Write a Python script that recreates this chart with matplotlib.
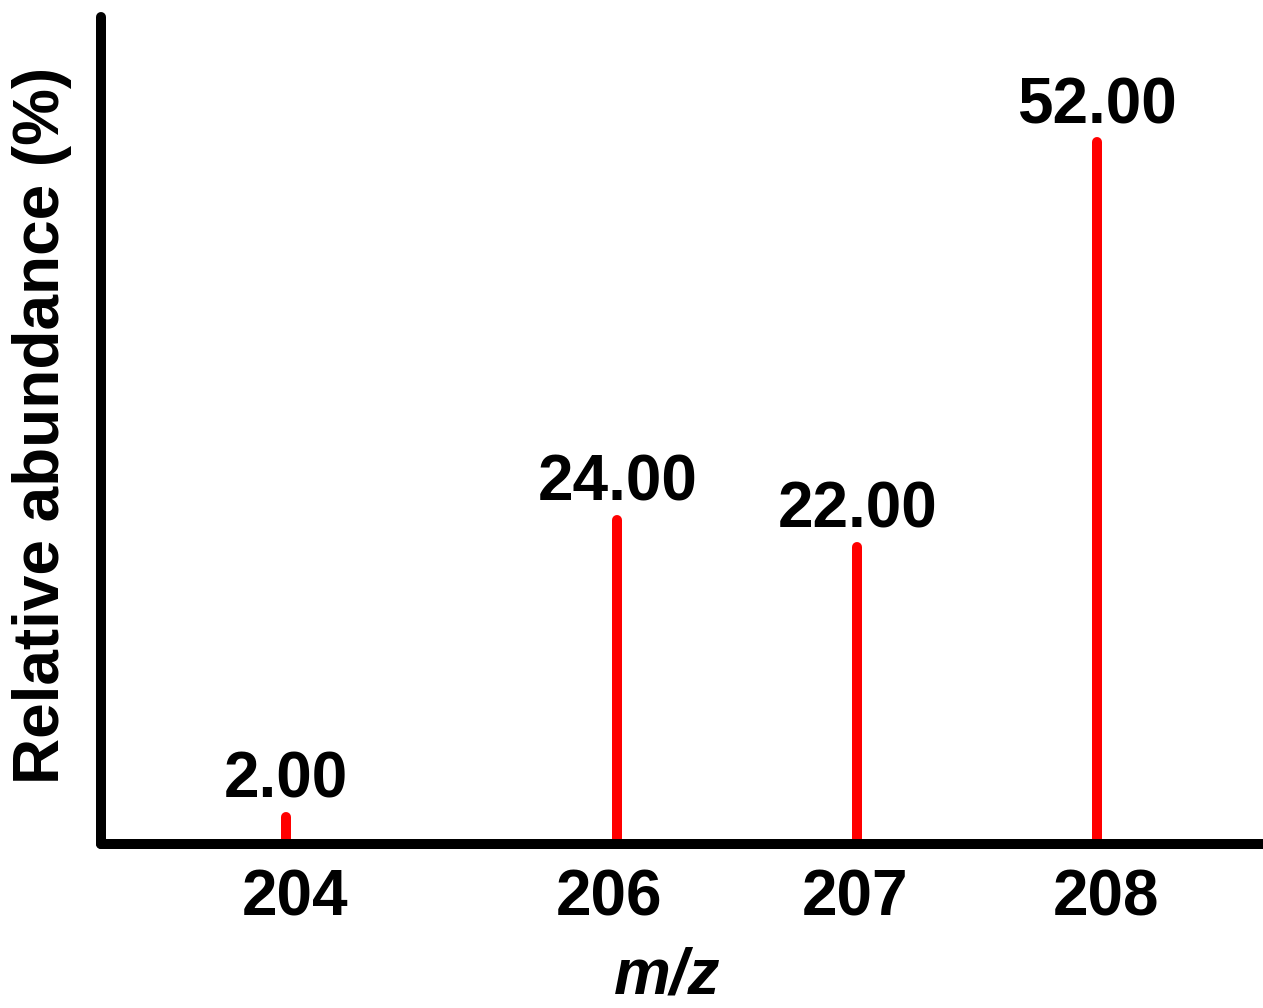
import numpy as np
import matplotlib
matplotlib.use("Agg")
import matplotlib.pyplot as plt
import matplotlib.transforms as mtransforms

# Lead isotope abundances
mz = [204, 206, 207, 208]
abundance = [2.00, 24.00, 22.00, 52.00]
tick_labels = ["204", "206", "207", "208"]

FONT = "Liberation Sans"
plt.rcParams["font.family"] = [FONT, "DejaVu Sans"]

# m/z 205 is absent, so the 204-206 interval is drawn compressed
GAP_END = 206.0
GAP_FACTOR = 0.69


def forward(x):
    x = np.asarray(x, dtype=float)
    return np.where(x >= GAP_END, x, GAP_END - (GAP_END - x) * GAP_FACTOR)


def inverse(y):
    y = np.asarray(y, dtype=float)
    return np.where(y >= GAP_END, y, GAP_END - (GAP_END - y) / GAP_FACTOR)


fig = plt.figure(figsize=(12.63, 10.08), dpi=100)
ax = fig.add_axes([0.0796, 0.1627, 0.9204, 0.8204])
ax.set_xscale("function", functions=(forward, inverse))
ax.set_xlim(202.88, 208.69)
ax.set_ylim(0, 61.3)

lc = ax.vlines(mz, 0, abundance, colors="#ff0000", linewidth=7.2, zorder=2)
lc.set_capstyle("round")

for x, v in zip(mz, abundance):
    ax.annotate(f"{v:.2f}", (x, v), xytext=(0, 14), textcoords="offset points",
                ha="center", va="baseline", fontsize=46, fontweight="bold",
                color="black")

for side in ("top", "right"):
    ax.spines[side].set_visible(False)
for side in ("left", "bottom"):
    ax.spines[side].set_linewidth(7.2)
    ax.spines[side].set_capstyle("round")
    ax.spines[side].set_zorder(3)

ax.set_yticks([])
ax.set_xticks(mz)
ax.set_xticklabels(tick_labels, fontsize=46, fontweight="bold")
ax.tick_params(axis="x", length=0, pad=18)

# nudge the tick labels slightly sideways (in points)
label_shift = [6.5, -5.8, -1.4, 6.5]
for lbl, dx in zip(ax.get_xticklabels(), label_shift):
    lbl.set_transform(lbl.get_transform() +
                      mtransforms.ScaledTranslation(dx / 72, 0, fig.dpi_scale_trans))

fig.text(42 / 1263, 1 - 425 / 1008, "Relative abundance (%)", rotation=90,
         ha="center", va="center", fontsize=46, fontweight="bold")
fig.text(667 / 1263, 0.001, "m/z", ha="center", va="bottom",
         fontsize=46, fontweight="bold", style="italic")

fig.savefig("out.png", dpi=100)
